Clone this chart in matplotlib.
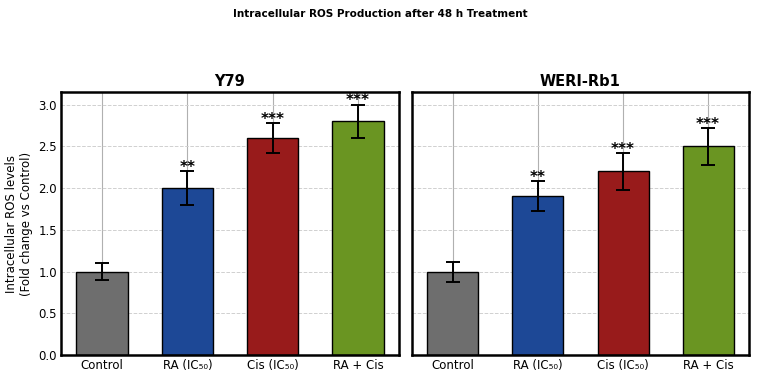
import matplotlib
matplotlib.use("Agg")
import matplotlib.pyplot as plt

# data
treatments = ["Control", "RA (IC\u2085\u2080)", "Cis (IC\u2085\u2080)", "RA + Cis"]
cell_lines = ["Y79", "WERI-Rb1"]
y79_mean = [1.0, 2.0, 2.6, 2.8]
y79_err = [0.1, 0.2, 0.18, 0.2]
weri_mean = [1.0, 1.9, 2.2, 2.5]
weri_err = [0.12, 0.18, 0.22, 0.22]
y79_sig = ["", "**", "***", "***"]
weri_sig = ["", "**", "***", "***"]

colors = ["#6e6e6e", "#1d4896", "#981b1b", "#6a9522"]

fig = plt.figure(figsize=(7.61, 3.75), dpi=100)
ax1 = fig.add_axes([0.0802, 0.0533, 0.4441, 0.7013])
ax2 = fig.add_axes([0.5414, 0.0533, 0.4428, 0.7013], sharey=ax1)

panels = [
    (ax1, cell_lines[0], y79_mean, y79_err, y79_sig),
    (ax2, cell_lines[1], weri_mean, weri_err, weri_sig),
]

for ax, name, means, errs, sigs in panels:
    x = list(range(len(treatments)))
    ax.set_axisbelow(True)
    ax.bar(x, means, width=0.6, color=colors, edgecolor="black", linewidth=1.0, zorder=2)
    ax.errorbar(x, means, yerr=errs, fmt="none", ecolor="black",
                elinewidth=1.4, capsize=5, capthick=1.4, zorder=3)
    for xi, m, e, s in zip(x, means, errs, sigs):
        if s:
            ax.text(xi, m + e + 0.045, s, ha="center", va="center",
                    fontsize=11, fontweight="bold", zorder=4)
    ax.set_xticks(x)
    ax.set_xticklabels(treatments, fontsize=8.5)
    ax.set_title(name, fontsize=10.5, fontweight="bold", pad=4)
    ax.grid(axis="x", color="#b0b0b0", linewidth=0.8, linestyle="-")
    ax.grid(axis="y", color="#d0d0d0", linewidth=0.7, linestyle="--")
    ax.tick_params(axis="both", length=0, pad=3, labelsize=8.5)
    for sp in ax.spines.values():
        sp.set_linewidth(1.8)
        sp.set_color("black")

ax1.set_ylim(0, 3.15)
ax1.set_yticks([0.0, 0.5, 1.0, 1.5, 2.0, 2.5, 3.0])
ax1.set_ylabel("Intracellular ROS levels\n(Fold change vs Control)", fontsize=8.5, labelpad=4)
plt.setp(ax2.get_yticklabels(), visible=False)

fig.suptitle("Intracellular ROS Production after 48 h Treatment",
             fontsize=7.5, fontweight="bold", y=0.977)

fig.savefig("out.png", dpi=100)
